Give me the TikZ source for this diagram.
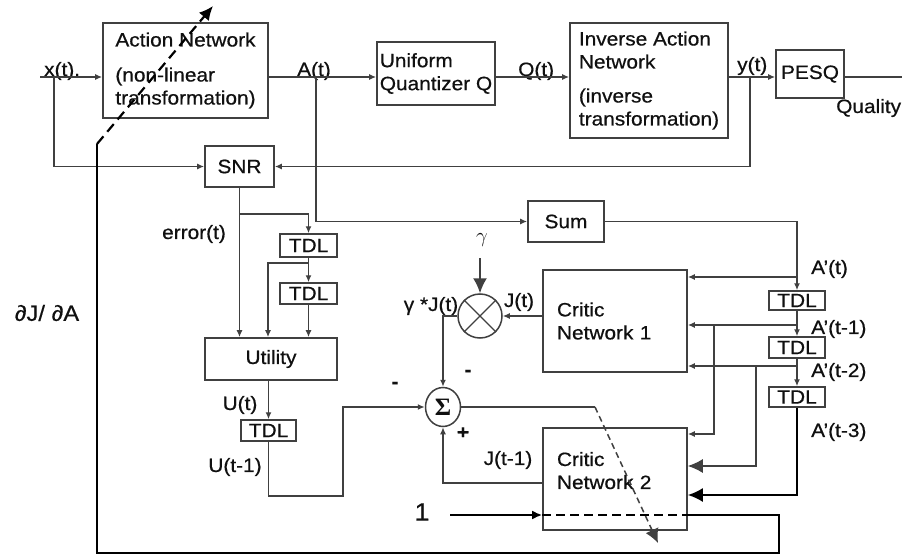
\documentclass[tikz,border=0pt]{standalone}
\usepackage{fontspec}
\setmainfont[FakeStretch=1.08,FakeBold=0.6]{Liberation Sans}
\newfontfamily\sigfont{Liberation Serif}
\usetikzlibrary{arrows.meta,shapes.geometric}
\definecolor{lc}{HTML}{404040}
\definecolor{tc}{HTML}{101010}
\begin{document}
\begin{tikzpicture}[x=1pt,y=-1pt,
  font=\fontsize{19.3}{23}\selectfont, text=tc,
  box/.style={draw=lc, line width=1.6pt, inner sep=2pt},
  tdl/.style={draw=lc, line width=1.5pt, inner sep=0pt, minimum width=57pt, minimum height=21pt},
  circ/.style={draw=lc, line width=1.5pt, circle, inner sep=0pt},
  ln/.style={draw=lc, line width=1.4pt},
  arr/.style={ln, -{Latex[length=7pt,width=6pt]}},
  bigarr/.style={-{Latex[length=15pt,width=14pt]}},
  thk/.style={draw=black, line width=2.4pt},
  lbl/.style={inner sep=0pt}]
\fill[white] (0,0) rectangle (902,559);
\useasboundingbox (0,0) rectangle (902,559);

% boxes
\node[box, minimum width=165pt, minimum height=95pt, align=left] (act) at (185.5,70.5) {Action Network\\[12pt](non-linear\\transformation)};
\node[box, minimum width=118pt, minimum height=63pt, align=left] (quant) at (436,73.5) {Uniform\\Quantizer Q};
\node[box, minimum width=158pt, minimum height=115pt, align=left] (inv) at (649,80.5) {Inverse Action\\Network\\[11pt](inverse\\transformation)};
\node[box, minimum width=68pt, minimum height=48pt] (pesq) at (810,74) {PESQ};
\node[box, minimum width=69pt, minimum height=41pt] (snr) at (239.5,166.5) {SNR};
\node[box, minimum width=76pt, minimum height=41pt] (sum) at (566,221.5) {Sum};
\node[box, minimum width=132pt, minimum height=42pt] (util) at (271,359) {Utility};
\node[tdl, minimum height=23pt] (tdle1) at (308.5,245.5) {TDL};
\node[tdl] (tdle2) at (308.5,293.5) {TDL};
\node[tdl, minimum width=55pt] (tdlu) at (268.5,430.5) {TDL};
\node[tdl, minimum width=56pt, minimum height=19pt] (tdlr1) at (797,300.5) {TDL};
\node[tdl, minimum width=56pt] (tdlr2) at (797,347.5) {TDL};
\node[tdl, minimum width=56pt, minimum height=20pt] (tdlr3) at (797,397) {TDL};
\node[box, minimum width=144pt, minimum height=102pt, align=left, text width=116pt] (crit1) at (615,321) {Critic\\Network 1};
\node[box, minimum width=144pt, minimum height=102pt, align=left, text width=116pt] (crit2) at (615,479) {Critic\\Network 2\\[-6pt]\mbox{}};
\node[circ, minimum size=44pt] (mult) at (480,316) {};
\draw[ln] (mult.north west) -- (mult.south east) (mult.north east) -- (mult.south west);
\node[draw=lc, line width=1.5pt, ellipse, inner sep=0pt, minimum width=35pt, minimum height=39pt] (sig) at (443,407) {};
\node[lbl, font=\sigfont\bfseries\fontsize{25}{25}\selectfont] (sigt) at (sig.center) {Σ};

% labels
\node[lbl, anchor=base west] (lx) at (44,76) {x(t).};
\node[lbl, anchor=base west] (la) at (297,76) {A(t)};
\node[lbl, anchor=base west] (lq) at (518,76) {Q(t)};
\node[lbl, anchor=base west] (ly) at (737,71) {y(t)};
\node[lbl, anchor=west] (lqual) at (836,108) {Quality};
\node[lbl] (lerr) at (194,234) {error(t)};
\node[lbl] (lgam) at (482,240) {\fontsize{21}{21}\selectfont$\gamma$};
\node[lbl] (lgj) at (431,306) {γ *J(t)};
\node[lbl] (lj) at (519,302) {J(t)};
\node[lbl] (lut) at (240,405) {U(t)};
\node[lbl] (lut1) at (235,467) {U(t-1)};
\node[lbl] (ljt1) at (508,460) {J(t-1)};
\node[lbl] (lm1) at (468,373) {\textbf{-}};
\node[lbl] (lm2) at (395,385) {\textbf{-}};
\node[lbl] (lp) at (463,433) {\textbf{+}};
\node[lbl, anchor=west] (la0) at (811,269) {A’(t)};
\node[lbl, anchor=west] (la1) at (811,329) {A’(t-1)};
\node[lbl, anchor=west] (la2) at (811,372) {A’(t-2)};
\node[lbl, anchor=west] (la3) at (811,432) {A’(t-3)};
\node[lbl, font=\fontsize{22}{24}\selectfont] (ldj) at (47,313) {∂J/ ∂A};
\node[lbl, font=\fontsize{25}{26}\selectfont] (lone) at (422,512) {1};

% top chain
\coordinate (xin) at (40,77);
\coordinate (xb) at (54,77);
\coordinate (ab) at (316,77);
\coordinate (yb) at (750,77);
\coordinate (qout) at (902,77);
\draw[arr] (xin) -- (xin -| act.west);
\draw[arr] (xb) |- (snr.west);
\draw[arr] (act.east |- xin) -- (quant.west |- xin);
\draw[arr] (ab) |- (sum.west);
\draw[arr] (quant.east |- xin) -- (inv.west |- xin);
\draw[arr] (inv.east |- xin) -- (pesq.west |- xin);
\draw[arr] (yb) |- (snr.east);
\draw[ln] (pesq.east |- xin) -- (qout);

% error / utility
\coordinate (eb) at (239.5,214);
\coordinate (eb2) at (308.5,263);
\draw[arr] (snr.south) -- (util.north -| snr.south);
\draw[arr] (eb) -| (tdle1.north);
\draw[arr] (tdle1.south) -- (tdle2.north);
\draw[arr] (eb2) -| ([xshift=-3pt]util.north);
\draw[arr] (tdle2.south) -- (util.north -| tdle2.south);
\draw[arr] (util.south -| tdlu.north) -- (tdlu.north);
\coordinate (uc) at (343,496);
\draw[arr] (tdlu.south) |- (uc) |- (sig.west);

% multiplier and sum
\coordinate (gtop) at (480,258);
\draw[ln, line width=1.8pt, bigarr] (gtop) -- (mult.north);
\draw[arr] (crit1.west |- mult.east) -- (mult.east);
\draw[arr] (mult.west) -| (sig.north);
\draw[arr] ([yshift=-4pt]crit2.west) -| (sig.south);
\coordinate (d1) at (595,407);
\coordinate (d2) at (658,543);
\draw[ln] (sig.east) -- (d1);
\draw[ln, line width=1.5pt, dash pattern=on 6pt off 4pt, -{Latex[length=14pt,width=14pt]}] (d1) -- (d2);

% A' taps
\draw[arr] (sum.east) -| (tdlr1.north);
\coordinate (a0) at (797,277);
\draw[arr] (a0) -- (a0 -| crit1.east);
\draw[arr] (tdlr1.south) -- (tdlr2.north);
\coordinate (a1) at (797,325);
\draw[arr] (a1) -- (a1 -| crit1.east);
\coordinate (b1) at (714,325);
\coordinate (b1d) at (714,434);
\draw[arr] (b1) -- (b1d) -- (b1d -| crit2.east);
\draw[arr] (tdlr2.south) -- (tdlr3.north);
\coordinate (a2) at (797,366);
\draw[arr] (a2) -- (a2 -| crit1.east);
\coordinate (b2) at (756,366);
\coordinate (b2d) at (756,466);
\draw[ln, bigarr] (b2) -- (b2d) -- (b2d -| crit2.east);
\coordinate (a3) at (797,495);
\draw[thk, line width=2pt, bigarr] (tdlr3.south) -- (a3) -- (a3 -| crit2.east);

% feedback
\coordinate (one) at (450,515);
\coordinate (f1) at (779,515);
\coordinate (f2) at (779,553);
\coordinate (f3) at (97,553);
\coordinate (f4) at (97,144);
\coordinate (f5) at (213,6);
\draw[thk, line width=2pt, -{Latex[length=10pt,width=9pt]}] (one) -- (one -| crit2.west);
\draw[thk, line width=2pt, dash pattern=on 9pt off 5pt] (one -| crit2.west) -- (one -| crit2.east);
\draw[thk] (one -| crit2.east) -- (f1) -- (f2) -- (f3) -- (f4);
\draw[thk, line width=2.2pt, dash pattern=on 10pt off 6pt, -{Latex[length=14pt,width=13pt]}] (f4) -- (f5);
\end{tikzpicture}
\end{document}
